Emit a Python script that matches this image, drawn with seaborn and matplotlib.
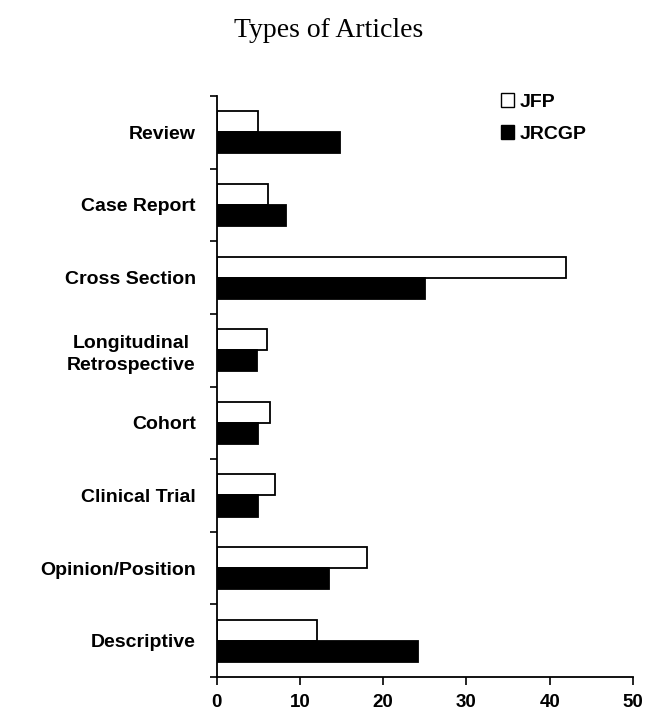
import pandas as pd
import numpy as np
from matplotlib import pyplot as plt
from matplotlib.ticker import FixedLocator
from matplotlib.patches import Patch
import seaborn as sns

categories = ['Review', 'Case Report', 'Cross Section', 'Longitudinal\nRetrospective',
              'Cohort', 'Clinical Trial', 'Opinion/Position', 'Descriptive']
jfp = [5, 6.2, 42, 6, 6.4, 7, 18, 12]
jrcgp = [14.8, 8.3, 25, 4.8, 5, 5, 13.5, 24.2]
journals = ['JFP', 'JRCGP']

df = pd.DataFrame({'type': categories * 2,
                   'pct': jfp + jrcgp,
                   'journal': [journals[0]] * len(categories) + [journals[1]] * len(categories)})

sns.set_style('white')
plt.rcParams['font.family'] = ['Liberation Sans', 'DejaVu Sans']
plt.rcParams['text.color'] = 'black'
plt.rcParams['xtick.color'] = 'black'
plt.rcParams['ytick.color'] = 'black'

fig = plt.figure(figsize=(6.57, 7.15), dpi=100)
ax = fig.add_axes([0.3298, 0.0531, 0.6337, 0.8126])

sns.barplot(data=df, y='type', x='pct', hue='journal', orient='h', order=categories,
            palette={'JFP': 'white', 'JRCGP': 'black'}, edgecolor='black', linewidth=1.3,
            width=0.58, ax=ax, legend=False)

ax.set_xlim(0, 50)
ax.set_ylim(len(categories) - 0.5, -0.5)
ax.set_xticks([0, 10, 20, 30, 40, 50])
ax.set_xticklabels(['0', '10', '20', '30', '40', '50'], fontsize=13.5, fontweight='bold')
ax.set_yticks(range(len(categories)))
ax.set_yticklabels(categories, fontsize=14, fontweight='bold', multialignment='center',
                   linespacing=1.35)
ax.yaxis.set_minor_locator(FixedLocator(np.arange(-0.5, len(categories), 1)))
ax.tick_params(axis='y', which='major', length=0, pad=15)
ax.tick_params(axis='y', which='minor', length=5, width=1.2, color='black', left=True)
ax.tick_params(axis='x', which='major', length=6, width=1.2, color='black', bottom=True, pad=6)
ax.set_xlabel('')
ax.set_ylabel('')
sns.despine(ax=ax)
for s in ['left', 'bottom']:
    ax.spines[s].set_color('black')
    ax.spines[s].set_linewidth(1.3)

handles = [Patch(facecolor='white', edgecolor='black', label='JFP'),
           Patch(facecolor='black', edgecolor='black', label='JRCGP')]
ax.legend(handles=handles, loc='upper left', bbox_to_anchor=(0.64, 1.035), frameon=False,
          prop={'weight': 'bold', 'size': 14}, handlelength=0.7, handleheight=0.7,
          handletextpad=0.3, labelspacing=0.75)

fig.text(0.5, 0.957, 'Types of Articles', ha='center', va='center', fontsize=20,
         family='Liberation Serif')

fig.savefig('out.png', dpi=100)
